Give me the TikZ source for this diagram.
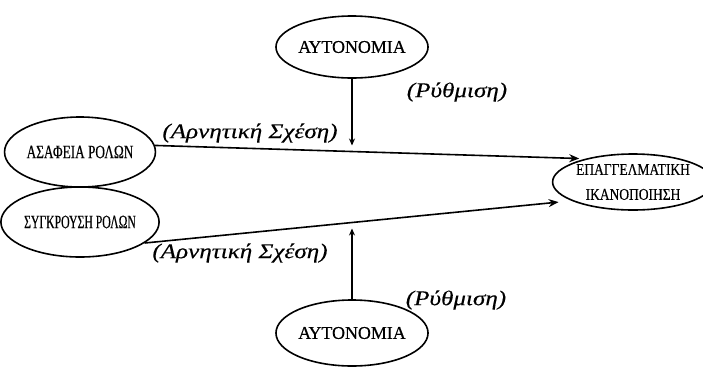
\documentclass[tikz,border=0pt]{standalone}
\usepackage{fontspec}
\setmainfont{Liberation Serif}
\newfontfamily\autfont[FakeBold=0.4]{Liberation Serif}
\newfontfamily\condL[FakeStretch=0.7,FakeBold=0.4]{Liberation Serif}
\newfontfamily\condS[FakeStretch=0.62,FakeBold=0.4]{Liberation Serif}
\newfontfamily\condR[FakeStretch=0.82,FakeBold=0.4]{Liberation Serif}
\newfontfamily\labfont[FakeStretch=1.2,FakeBold=0.3]{Liberation Serif}
\usetikzlibrary{shapes.geometric,arrows.meta,calc}
\begin{document}
\begin{tikzpicture}[x=1bp,y=-1bp,
  ell/.style={ellipse,draw,line width=1.6bp,inner sep=0pt,align=center},
  arr/.style={line width=1.6bp,-{Stealth[length=10bp,width=8bp]}},
  varr/.style={line width=1.6bp,-{Stealth[length=7bp,width=6bp]},shorten >=6bp},
  lab/.style={font=\labfont\itshape\fontsize{21}{24}\selectfont,inner sep=0pt}]
\useasboundingbox (0,0) rectangle (703,367);
\node[ell,minimum width=140bp,minimum height=62bp,font=\autfont\fontsize{18}{20}\selectfont] (autTop) at (352,47) {ΑΥΤΟΝΟΜΙΑ};
\node[ell,minimum width=146bp,minimum height=70bp,font=\condL\fontsize{19}{21}\selectfont] (asafeia) at (80,152) {ΑΣΑΦΕΙΑ ΡΟΛΩΝ};
\node[ell,minimum width=144bp,minimum height=70bp,font=\condS\fontsize{19}{21}\selectfont] (sygk) at (80,222) {ΣΥΓΚΡΟΥΣΗ ΡΟΛΩΝ};
\node[ell,minimum width=136bp,minimum height=56bp,font=\condR\fontsize{16.5}{25}\selectfont] (epag) at (633,182) {ΕΠΑΓΓΕΛΜΑΤΙΚΗ\\ΙΚΑΝΟΠΟΙΗΣΗ};
\node[ell,minimum width=142bp,minimum height=66bp,font=\autfont\fontsize{18}{20}\selectfont] (autBot) at (352,333) {ΑΥΤΟΝΟΜΙΑ};

\draw[arr,shorten >=6bp] (asafeia.5) -- (epag.154);
\draw[arr,shorten >=13bp] (sygk.-18) -- (epag.-163);

\coordinate (m1) at (intersection of asafeia.5--epag.154 and autTop.south--autBot.north);
\coordinate (m2) at (intersection of sygk.-18--epag.-163 and autTop.south--autBot.north);
\draw[varr] (autTop.south) -- (m1);
\draw[varr] (autBot.north) -- (m2);

\node[lab] (r1) at (457,92) {(Ρύθμιση)};
\node[lab] (r2) at (456,300) {(Ρύθμιση)};
\node[lab] (a1) at (250,133) {(Αρνητική Σχέση)};
\node[lab] (a2) at (240,253) {(Αρνητική Σχέση)};
\end{tikzpicture}
\end{document}
